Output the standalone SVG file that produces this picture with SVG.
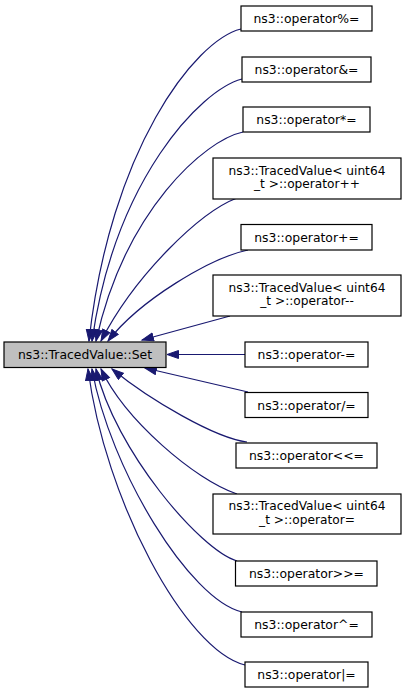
<svg xmlns="http://www.w3.org/2000/svg" width="405" height="693" viewBox="0 0 405 693">
<style>
.n rect{fill:#ffffff;stroke:#000000;stroke-width:1.2}
#set rect{fill:#bfbfbf}
text{font-family:"DejaVu Sans","Liberation Sans",sans-serif;font-size:12.4px;fill:#000000;text-anchor:middle}
.n text.two{font-size:12.2px}
.e path{fill:none;stroke:#191970;stroke-width:1.2;marker-end:url(#ah)}
</style>
<defs>
<marker id="ah" markerUnits="userSpaceOnUse" markerWidth="14" markerHeight="11" refX="12" refY="4.5" orient="auto">
<path d="M0.5,0.5 L12,4.5 L0.5,8.5 z" fill="#191970" stroke="#191970"/>
</marker>
</defs>
<rect width="405" height="693" fill="#ffffff"/>
<g id="edges" class="e">
<path d="M241,29 C195,40 110,150 89,341"/>
<path d="M242,79 C200,90 115,180 92,341"/>
<path d="M243,132 C205,140 125,210 96,341"/>
<path d="M237,198 C200,212 135,275 101,341"/>
<path d="M248,250 C210,258 140,300 108,341"/>
<path d="M230,316 L142,340"/>
<path d="M245,354.5 L167,354.5"/>
<path d="M248,392 L145,368"/>
<path d="M247,442 C215,438 150,400 112,369"/>
<path d="M237,494 C195,480 125,420 101,369"/>
<path d="M237,561 C200,550 115,450 96,369"/>
<path d="M242,612 C190,600 110,470 92,369"/>
<path d="M245,665 C185,650 105,500 88,369"/>
</g>
<g id="set" class="n"><rect x="4" y="342" width="162" height="25.5"/><text x="85" y="359">ns3::TracedValue::Set</text></g>
<g id="op_mod" class="n"><rect x="241" y="6" width="131" height="25"/><text x="306.5" y="22.5">ns3::operator%=</text></g>
<g id="op_and" class="n"><rect x="242" y="57" width="129" height="25"/><text x="306.5" y="73.5">ns3::operator&amp;=</text></g>
<g id="op_mul" class="n"><rect x="243" y="107" width="127" height="25"/><text x="306.5" y="123.5">ns3::operator*=</text></g>
<g id="tv_inc" class="n"><rect x="213" y="158" width="188" height="41"/><text class="two" x="307" y="174.6">ns3::TracedValue&lt; uint64</text><text class="two" x="307" y="188">_t &gt;::operator++</text></g>
<g id="op_add" class="n"><rect x="241" y="224.5" width="131" height="25.5"/><text x="306.5" y="241.5">ns3::operator+=</text></g>
<g id="tv_dec" class="n"><rect x="213" y="275" width="188" height="41"/><text class="two" x="307" y="291.6">ns3::TracedValue&lt; uint64</text><text class="two" x="307" y="305">_t &gt;::operator--</text></g>
<g id="op_sub" class="n"><rect x="245" y="342" width="123" height="25"/><text x="306.5" y="358.5">ns3::operator-=</text></g>
<g id="op_div" class="n"><rect x="245" y="392.5" width="123" height="25"/><text x="306.5" y="409.5">ns3::operator/=</text></g>
<g id="op_shl" class="n"><rect x="236" y="443" width="141" height="25"/><text x="306.5" y="459.5">ns3::operator&lt;&lt;=</text></g>
<g id="tv_assign" class="n"><rect x="213" y="494" width="188" height="40"/><text class="two" x="307" y="510.3">ns3::TracedValue&lt; uint64</text><text class="two" x="307" y="523.7">_t &gt;::operator=</text></g>
<g id="op_shr" class="n"><rect x="235.5" y="561" width="141.5" height="25"/><text x="306.5" y="577.5">ns3::operator&gt;&gt;=</text></g>
<g id="op_xor" class="n"><rect x="241" y="612" width="131" height="25"/><text x="306.5" y="628.5">ns3::operator^=</text></g>
<g id="op_or" class="n"><rect x="245" y="662" width="123" height="25"/><text x="306.5" y="678.5">ns3::operator|=</text></g>
</svg>
